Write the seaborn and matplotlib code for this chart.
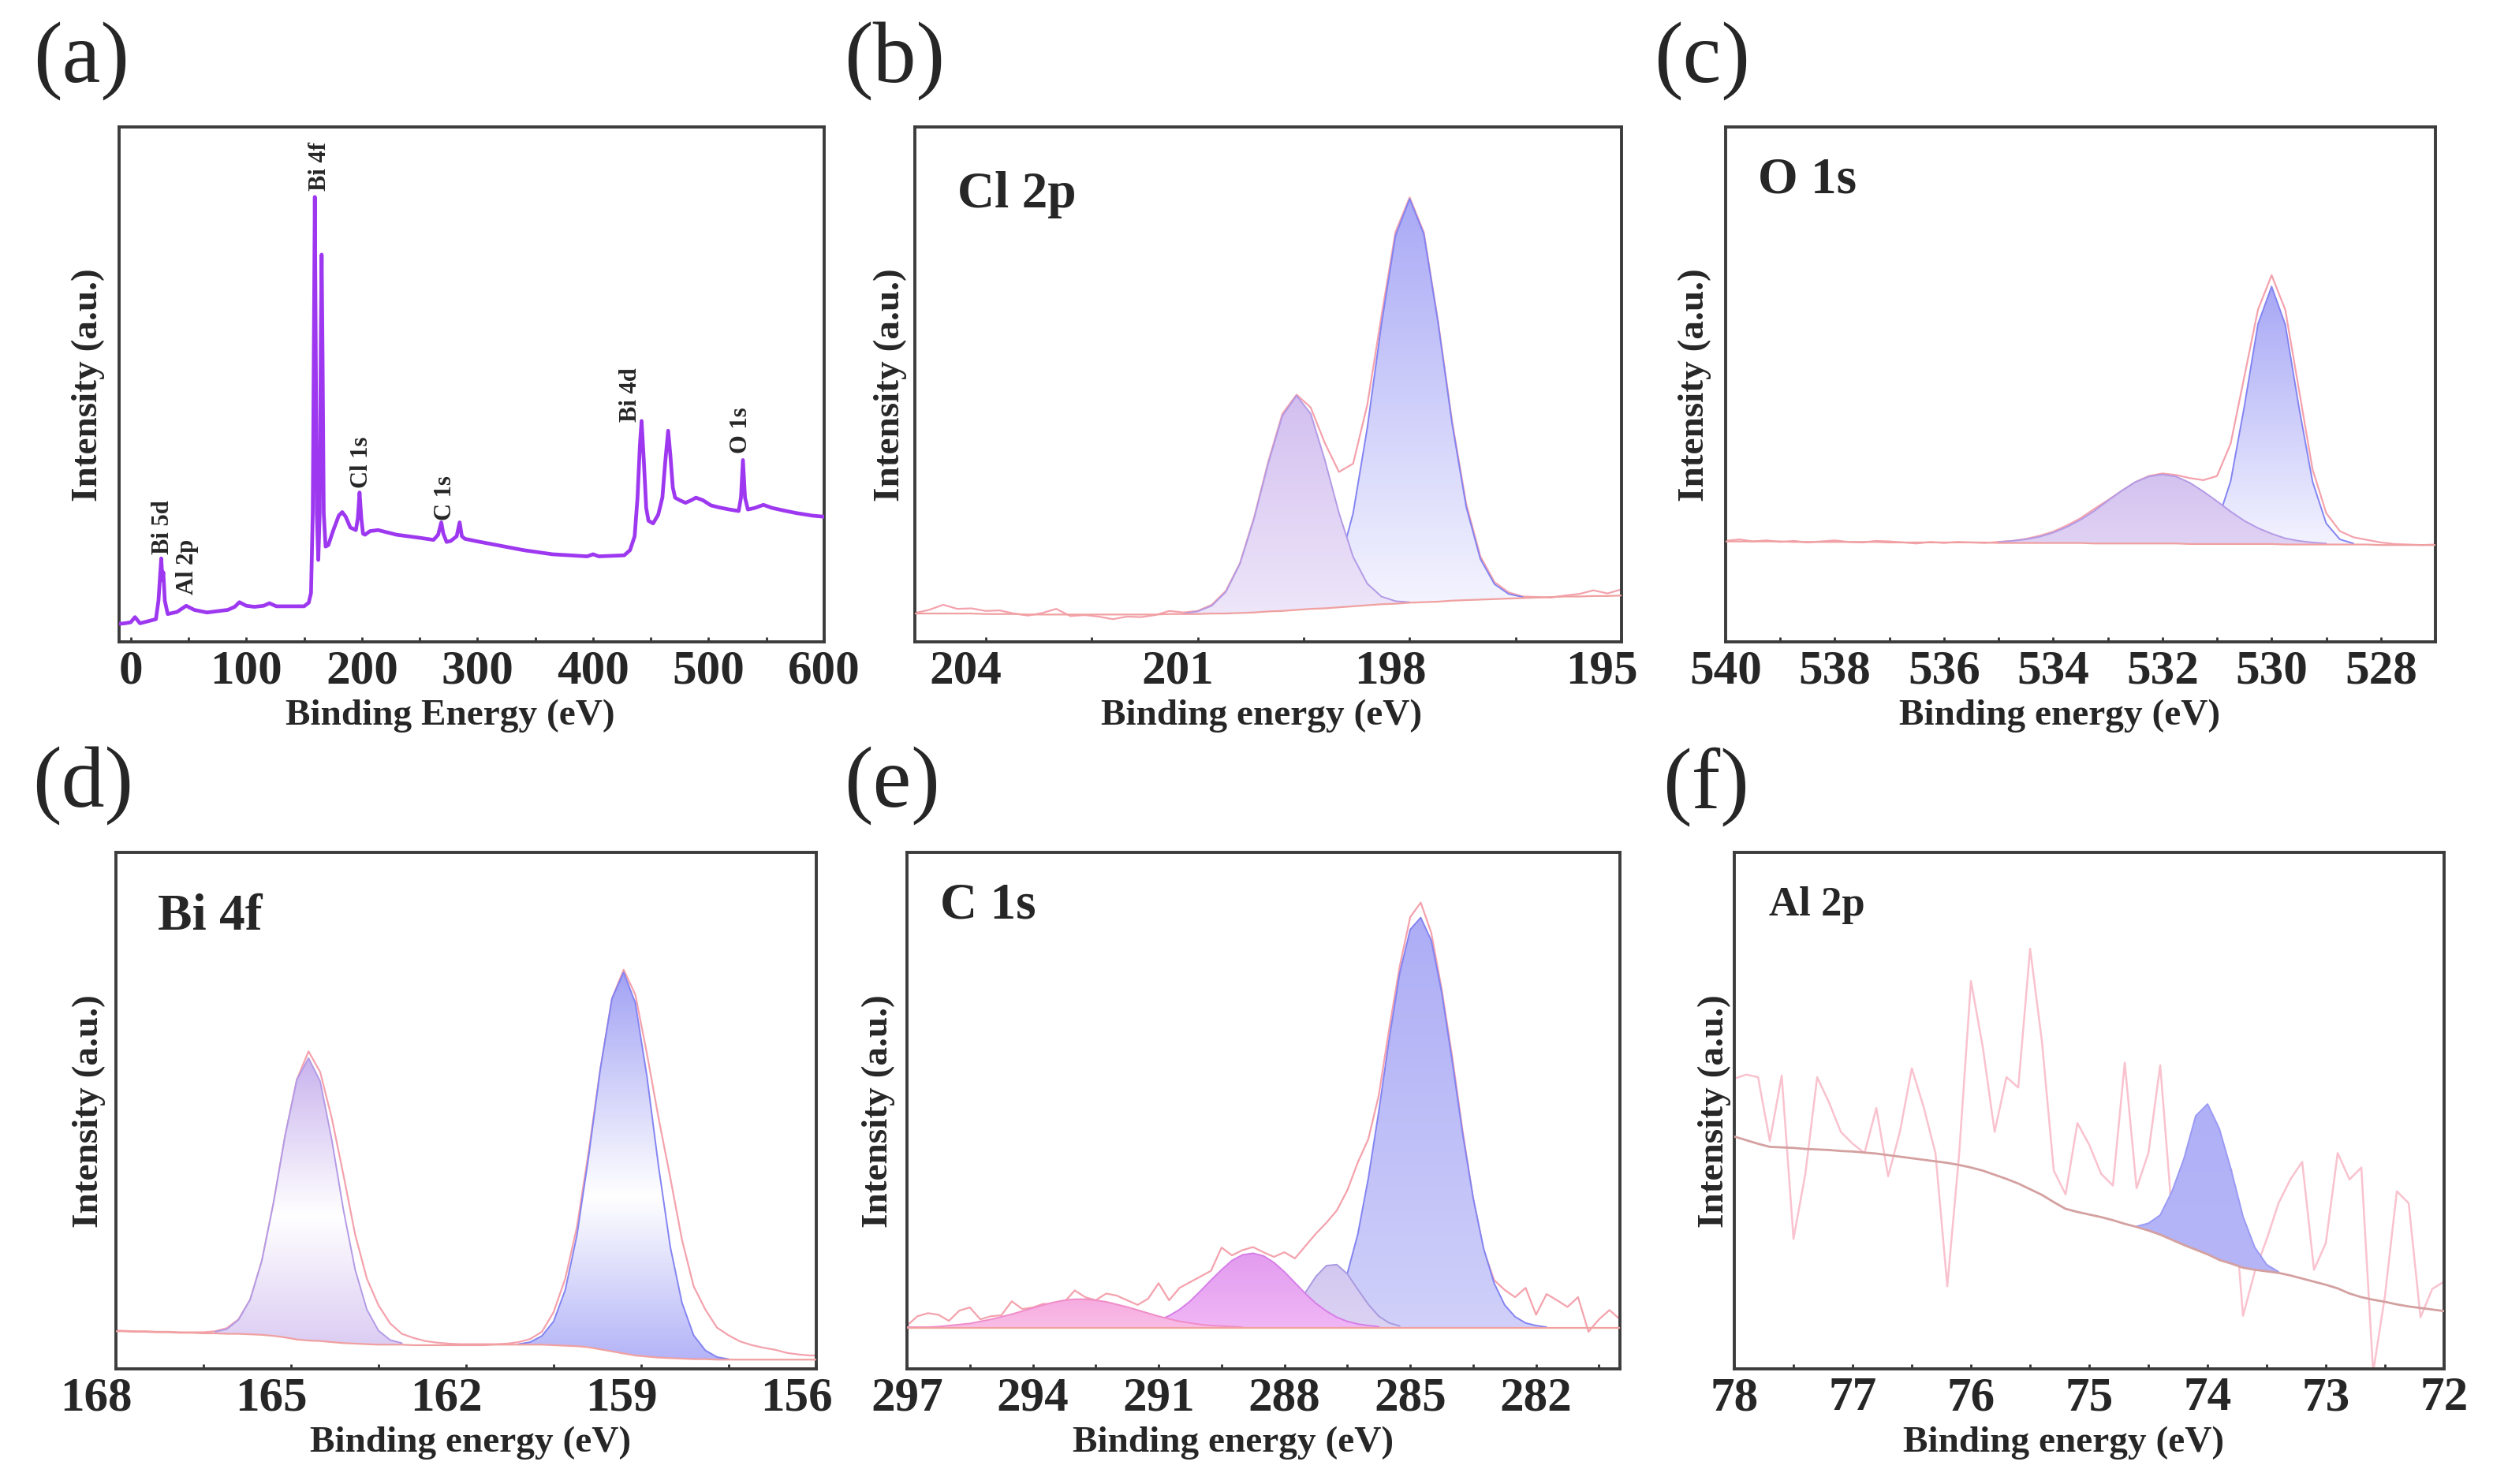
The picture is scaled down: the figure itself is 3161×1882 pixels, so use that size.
import numpy as np
import matplotlib
matplotlib.use('Agg')
import matplotlib.pyplot as plt
import seaborn as sns
from matplotlib.colors import LinearSegmentedColormap
from matplotlib.ticker import MultipleLocator
from matplotlib.transforms import ScaledTranslation

# ---- data (intensity = % of panel height) ----

# (a) survey spectrum
survey_E = [-10, -5, 0, 3.7, 8, 15, 21.8, 24, 26.4, 27.5, 28.2, 29.5, 32, 40, 48, 55, 66, 84, 90, 94,
            100, 107, 115, 120, 126, 140, 150, 154, 156, 157.5, 158.5, 159.3, 160.0, 161, 162.3, 163.5,
            164.5, 165.2, 166, 167, 168.6, 171, 175, 180, 183, 186, 190, 194.8, 196.5, 198, 199.5, 201,
            202.7, 207, 214, 230, 250, 262, 266, 268.7, 270.5, 273.3, 277, 282, 284.6, 286.5, 289.2, 300,
            316.5, 340, 365, 395, 400, 405, 427, 432, 436, 438.5, 440.5, 442, 444, 446, 448, 452, 456.4,
            460, 462.5, 465, 467, 469, 471, 475, 480, 485, 489, 495, 502, 509, 518, 526, 528, 529.7,
            531.5, 534, 540, 547.4, 555, 565, 576, 590, 600]
survey_I = [3.5, 3.6, 3.8, 4.8, 3.6, 4.0, 4.4, 8.0, 16.2, 12.0, 13.5, 8.0, 5.4, 5.8, 7.0, 6.2, 5.7, 6.2, 6.8, 7.7,
            7.0, 6.8, 7.0, 7.5, 6.9, 6.9, 6.9, 7.6, 9.5, 25.0, 60.0, 86.4, 60.0, 25.0, 15.9, 25.0,
            60.0, 75.2, 55.0, 25.0, 18.5, 18.8, 21.5, 24.5, 25.2, 24.3, 22.2, 21.7, 24.0, 29.0, 24.0, 21.0,
            20.8, 21.5, 21.7, 20.8, 20.2, 19.8, 20.8, 23.2, 21.0, 19.4, 19.6, 20.5, 23.2, 20.5, 20.0, 19.5,
            18.8, 17.8, 17.0, 16.6, 17.0, 16.6, 16.8, 17.8, 20.5, 28.0, 38.0, 42.9, 35.0, 26.0, 23.5, 23.0, 24.7,
            28.0, 35.0, 41.0, 36.0, 30.0, 28.0, 27.5, 27.0, 27.5, 28.0, 27.5, 26.5, 26.1, 25.7, 25.4, 28.0, 35.3,
            28.0, 25.7, 26.0, 26.6, 26.0, 25.5, 25.0, 24.5, 24.3]
survey_tags = ['Bi 5d', 'Al 2p', 'Bi 4f', 'Cl 1s', 'C 1s', 'Bi 4d', 'O 1s']
survey_tag_E = [27.8, 49.3, 163.3, 200, 272, 432.3, 528]
survey_tag_I = [17.2, 9.3, 87.7, 30.0, 23.8, 42.9, 36.8]

# (b) Cl 2p, 205 -> 195 eV in 0.2 eV steps
E_b = np.round(np.linspace(205, 195, 51), 2)
bg_b = [5.5, 5.5, 5.5, 5.5, 5.5, 5.4, 5.4, 5.4, 5.3, 5.3,
        5.3, 5.3, 5.3, 5.3, 5.3, 5.3, 5.3, 5.3, 5.4, 5.4,
        5.4, 5.5, 5.5, 5.6, 5.7, 5.9, 6.0, 6.2, 6.4, 6.5,
        6.7, 6.9, 7.1, 7.3, 7.4, 7.6, 7.7, 7.8, 8.0, 8.1,
        8.2, 8.3, 8.4, 8.5, 8.6, 8.7, 8.8, 8.8, 8.9, 8.9, 9.0]
raw_b = [5.6, 6.2, 7.2, 6.4, 6.5, 6.0, 6.1, 5.5, 5.1, 5.6,
         6.4, 5.0, 5.2, 4.9, 4.4, 4.9, 4.8, 5.2, 6.0, 5.7,
         6.0, 7.2, 9.9, 15.3, 24.2, 35.0, 44.3, 48.0, 45.5, 38.6,
         33.0, 34.6, 46.0, 63.2, 79.6, 86.3, 79.5, 62.4, 42.8, 26.8,
         16.6, 11.6, 9.6, 8.8, 8.7, 8.6, 9.0, 9.3, 10.0, 9.4, 10.2]
blue_b = [0] * 27 + [0.2, 0.9, 2.9, 7.9, 18.1, 34.4, 54.3, 71.5, 78.4, 71.5,
                     54.3, 34.4, 18.1, 7.9, 2.9, 0.9, 0.2] + [0] * 7
violet_b = [0] * 19 + [0.1, 0.5, 1.5, 4.2, 9.6, 18.3, 28.8, 37.9, 41.6, 37.9,
                       28.8, 18.3, 9.6, 4.2, 1.5, 0.5, 0.1] + [0] * 15

# (c) O 1s, 540 -> 527 eV in 0.25 eV steps
E_c = np.round(np.linspace(540, 527, 53), 2)
bg_c = [19.5] * 5 + [19.4] * 7 + [19.3] * 8 + [19.2] * 7 + [19.1] * 7 + [19.0] * 7 + [18.9] * 7 + [18.8] * 5
raw_c = [19.6, 19.9, 19.5, 19.7, 19.4, 19.6, 19.3, 19.5, 19.7, 19.4,
         19.3, 19.6, 19.5, 19.3, 19.1, 19.4, 19.2, 19.4, 19.3, 19.2,
         19.4, 19.6, 20.0, 20.6, 21.4, 22.6, 24.0, 25.8, 27.5, 29.3,
         31.0, 32.2, 32.7, 32.4, 31.8, 31.4, 32.2, 38.5, 51.5, 64.5,
         71.2, 64.5, 49.0, 33.5, 25.0, 21.5, 20.3, 19.8, 19.3, 19.0,
         18.9, 18.8, 18.9]
blue_c = [0] * 34 + [0.2, 1.0, 4.1, 12.2, 26.7, 42.7, 50.0, 42.7, 26.7, 12.2, 4.1, 1.0, 0.2] + [0] * 6
violet_c = [0] * 20 + [0.2, 0.4, 0.7, 1.2, 2.0, 3.1, 4.5, 6.3, 8.3, 10.2, 11.9, 13.0, 13.4,
                       13.0, 11.9, 10.2, 8.3, 6.3, 4.5, 3.1, 2.0, 1.2, 0.7, 0.4, 0.2] + [0] * 8

# (d) Bi 4f, 168 -> 156 eV
E_d = np.round(np.concatenate(([168.0], np.linspace(167.9, 156.1, 60), [156.0])), 2)
bg_d = [7.3, 7.3, 7.2, 7.2, 7.1, 7.1, 7.0, 7.0, 6.9, 6.9,
        6.8, 6.8, 6.7, 6.6, 6.4, 6.1, 5.7, 5.5, 5.4, 5.2,
        5.0, 4.9, 4.8, 4.7, 4.7, 4.7, 4.6, 4.6, 4.6, 4.6,
        4.6, 4.6, 4.6, 4.7, 4.7, 4.7, 4.7, 4.7, 4.6, 4.5,
        4.4, 4.2, 3.8, 3.4, 3.0, 2.6, 2.4, 2.2, 2.1, 2.0,
        1.9, 1.9, 1.8, 1.8, 1.8, 1.8, 1.8, 1.8, 1.8, 1.8,
        1.8, 1.8]
raw_d = [7.4, 7.4, 7.3, 7.3, 7.2, 7.2, 7.1, 7.1, 7.1, 7.3,
         7.9, 9.6, 13.4, 20.9, 32.1, 45.2, 56.0, 61.5, 57.5, 48.5,
         37.5, 26.0, 17.5, 12.3, 8.8, 6.8, 6.0, 5.4, 5.1, 4.9,
         4.8, 4.8, 4.8, 4.8, 4.9, 5.2, 5.8, 7.2, 11.0, 17.5,
         27.5, 42.0, 58.0, 71.7, 77.3, 72.5, 61.0, 48.5, 37.0, 25.0,
         16.0, 11.5, 8.0, 6.5, 5.3, 4.6, 4.1, 3.7, 3.1, 2.8,
         2.6, 2.6]
violet_d = [0] * 9 + [0.3, 0.9, 2.7, 6.7, 14.3, 25.7, 39.1, 50.3, 54.7, 50.3,
                      39.1, 25.7, 14.3, 6.7, 2.7, 0.9, 0.3] + [0] * 36
blue_d = [0] * 35 + [0.1, 0.5, 1.7, 4.6, 10.8, 21.5, 36.9, 54.2, 68.3, 73.8,
                     68.3, 54.2, 36.9, 21.5, 10.8, 4.6, 1.7, 0.5, 0.1] + [0] * 8

# (e) C 1s, 297 -> 280 eV in 0.25 eV steps
E_e = np.round(np.linspace(297, 280, 69), 2)
bg_e = [8.0] * 69
raw_e = [8.4, 10.2, 10.8, 10.5, 9.3, 11.3, 11.9, 9.6, 10.2, 10.4,
         13.1, 11.6, 11.9, 12.6, 12.5, 12.9, 15.2, 13.9, 13.3, 14.6,
         14.2, 13.3, 12.4, 13.6, 16.6, 13.3, 15.7, 16.8, 17.9, 19.0,
         23.5, 22.0, 23.0, 23.6, 22.6, 21.7, 22.6, 21.4, 23.8, 26.2,
         28.3, 30.7, 34.6, 40.0, 44.5, 53.0, 66.0, 78.0, 87.5, 90.3,
         84.5, 73.5, 60.5, 46.0, 33.0, 23.0, 17.2, 15.3, 13.9, 15.7,
         10.5, 14.5, 13.3, 12.0, 13.9, 7.2, 9.6, 11.4, 9.6]
pink_e = [0.1, 0.1, 0.1, 0.2, 0.4, 0.6, 0.8, 1.2, 1.6, 2.1, 2.6, 3.2, 3.8, 4.4, 4.9, 5.3, 5.5,
          5.5, 5.3, 5.0, 4.5, 4.0, 3.4, 2.8, 2.2, 1.7, 1.2, 0.9, 0.6, 0.4, 0.3, 0.2, 0.1] + [0] * 36
magenta_e = [0] * 21 + [0.2, 0.4, 0.8, 1.4, 2.3, 3.5, 5.1, 7.1, 9.2, 11.2, 13.0, 14.1, 14.4,
                        13.9, 12.6, 10.8, 8.7, 6.6, 4.7, 3.2, 2.0, 1.2, 0.7, 0.4, 0.2] + [0] * 23
violet_e = [0] * 34 + [0.3, 0.8, 1.9, 3.9, 6.8, 9.9, 12.0, 12.2, 10.4, 7.4, 4.5, 2.2, 0.9, 0.3] + [0] * 21
blue_e = [0] * 37 + [0.2, 0.5, 1.2, 2.7, 5.5, 10.5, 18.1, 28.9, 41.9, 56.0, 68.7, 77.1, 79.4,
                     75.0, 64.9, 51.6, 37.5, 25.1, 15.3, 8.6, 4.4, 2.1, 0.9, 0.4, 0.1] + [0] * 7

# (f) Al 2p, 78 -> 72 eV in 0.1 eV steps
E_f = np.round(np.linspace(78, 72, 61), 2)
bg_f = [45.0, 44.3, 43.6, 43.0, 42.9, 42.8, 42.6, 42.5, 42.4, 42.2,
        42.1, 41.9, 41.7, 41.4, 41.1, 40.8, 40.5, 40.2, 39.9, 39.5,
        39.0, 38.4, 37.6, 36.8, 35.9, 34.8, 33.7, 32.3, 31.0, 30.4,
        29.9, 29.4, 28.8, 28.1, 27.5, 26.8, 26.0, 25.0, 24.0, 23.1,
        22.2, 21.1, 20.4, 19.6, 19.2, 18.9, 18.6, 18.1, 17.5, 16.9,
        16.3, 15.6, 14.6, 13.9, 13.4, 13.0, 12.5, 12.1, 11.8, 11.5,
        11.2]
raw_f = [56.2, 57.0, 56.5, 44.1, 56.8, 25.2, 37.8, 56.5, 51.6, 45.9,
         43.6, 41.8, 50.5, 37.3, 46.0, 58.2, 50.7, 41.8, 16.0, 41.6,
         75.1, 62.3, 45.9, 56.5, 54.5, 81.4, 63.4, 38.4, 33.8, 47.6,
         43.4, 37.8, 35.5, 59.3, 35.0, 41.8, 58.8, 29.8, 37.8, 45.9,
         43.6, 40.7, 38.7, 10.3, 18.9, 25.1, 32.1, 36.7, 40.1, 19.2,
         24.4, 41.8, 36.7, 39.0, -0.6, 14.2, 34.4, 32.1, 10.0, 15.5,
         16.9]
blue_f = [0] * 34 + [0.1, 1.4, 3.8, 9.4, 16.7, 25.9, 29.1, 25.4, 18.1, 9.9, 4.3, 1.3, 0.2] + [0] * 14

# ---- style ----
sns.set_theme(style='white')
plt.rcParams['font.family'] = ['Liberation Serif', 'DejaVu Serif']
plt.rcParams['font.weight'] = 'bold'

RAW = '#f4a2ad'
BG = '#f0a0a0'

fig = plt.figure(figsize=(31.61, 18.83), dpi=100)
fig.patch.set_facecolor('white')


def line(ax, x, y, color, lw, z):
    sns.lineplot(x=np.asarray(x), y=np.asarray(y), ax=ax, color=color, lw=lw,
                 estimator=None, legend=False, zorder=z)


def component(ax, E, bg, comp, colors, edge, z):
    E, bg, comp = np.asarray(E), np.asarray(bg, float), np.asarray(comp, float)
    m = comp > 0
    x, lo, hi = E[m], bg[m], bg[m] + comp[m]
    poly = ax.fill_between(x, lo, hi, facecolor='none', edgecolor='none', zorder=z)
    cmap = LinearSegmentedColormap.from_list('', colors)
    img = ax.imshow(np.linspace(0, 1, 256)[:, None], cmap=cmap, aspect='auto', origin='lower',
                    extent=(x.min(), x.max(), lo.min(), hi.max()), zorder=z, interpolation='bilinear')
    img.set_clip_path(poly.get_paths()[0], transform=ax.transData)
    line(ax, x, hi, edge, 1.4, z + 0.5)


def finish(ax, xlim, major, minor, xlabel, label_x, ypad):
    ax.set_xlim(*xlim)
    ax.set_ylim(0, 100)
    ax.xaxis.set_major_locator(MultipleLocator(major))
    ax.xaxis.set_minor_locator(MultipleLocator(minor))
    ax.set_yticks([])
    ax.tick_params(axis='x', which='both', direction='in', length=4, width=2, color='#333333',
                   pad=6, labelsize=44, bottom=True, top=False)
    for sp in ax.spines.values():
        sp.set_visible(True)
        sp.set_color('#3c3c3c')
        sp.set_linewidth(2.8)
    ax.set_xlabel(xlabel, fontsize=34, fontweight='bold', labelpad=5)
    ax.xaxis.label.set_x(label_x)
    ax.set_ylabel('Intensity (a.u.)', fontsize=34, fontweight='bold', labelpad=ypad)


ax_a = fig.add_axes([0.0478, 0.5672, 0.2828, 0.3468])
ax_b = fig.add_axes([0.3670, 0.5672, 0.2835, 0.3468])
ax_c = fig.add_axes([0.6922, 0.5672, 0.2847, 0.3468])
ax_d = fig.add_axes([0.0465, 0.0775, 0.2809, 0.3478])
ax_e = fig.add_axes([0.3638, 0.0775, 0.2860, 0.3478])
ax_f = fig.add_axes([0.6957, 0.0775, 0.2847, 0.3478])

# (a) survey
line(ax_a, survey_E, survey_I, '#9d38f0', 3.4, 3)
for tag, x, y in zip(survey_tags, survey_tag_E, survey_tag_I):
    ax_a.text(x, y, tag, rotation=90, ha='center', va='bottom', fontsize=22, fontweight='bold')
finish(ax_a, (-10, 600), 100, 50, 'Binding Energy (eV)', 0.469, 13)

# (b) Cl 2p
line(ax_b, E_b, raw_b, RAW, 1.6, 1)
component(ax_b, E_b, bg_b, blue_b, ['#f5f5ff', '#a9a9f6'], '#8383f2', 2)
component(ax_b, E_b, bg_b, violet_b, ['#eee6f9', '#d3bff0'], '#b39ae6', 3)
line(ax_b, E_b, bg_b, BG, 1.6, 5)
ax_b.text(0.06, 0.845, 'Cl 2p', transform=ax_b.transAxes, fontsize=47, fontweight='bold')
finish(ax_b, (205, 195), 3, 1.5, 'Binding energy (eV)', 0.49, 7)

# (c) O 1s
line(ax_c, E_c, raw_c, RAW, 1.6, 1)
component(ax_c, E_c, bg_c, blue_c, ['#f3f3ff', '#a7a7f6'], '#8383f2', 2)
component(ax_c, E_c, bg_c, violet_c, ['#e0d2f4', '#d4c2ef'], '#b39ae6', 3)
line(ax_c, E_c, bg_c, BG, 1.6, 5)
ax_c.text(0.045, 0.873, 'O 1s', transform=ax_c.transAxes, fontsize=47, fontweight='bold')
finish(ax_c, (540, 527), 2, 1, 'Binding energy (eV)', 0.471, 13)

# (d) Bi 4f
line(ax_d, E_d, raw_d, RAW, 1.6, 1)
component(ax_d, E_d, bg_d, violet_d, [(0, '#dccdf3'), (0.45, '#ffffff'), (1, '#c9b3ee')], '#b39ae6', 2)
component(ax_d, E_d, bg_d, blue_d, [(0, '#b4b4f8'), (0.42, '#ffffff'), (1, '#a2a2f5')], '#8383f2', 3)
line(ax_d, E_d, bg_d, BG, 1.6, 5)
ax_d.text(0.06, 0.852, 'Bi 4f', transform=ax_d.transAxes, fontsize=47, fontweight='bold')
finish(ax_d, (168, 156), 3, 1.5, 'Binding energy (eV)', 0.506, 9)

# (e) C 1s
line(ax_e, E_e, raw_e, RAW, 1.6, 1)
component(ax_e, E_e, bg_e, blue_e, ['#d0d0fa', '#adadf6'], '#8383f2', 2)
component(ax_e, E_e, bg_e, violet_e, ['#dbd3f3', '#d3c7f0'], '#a99ae0', 3)
component(ax_e, E_e, bg_e, magenta_e, ['#efb6f5', '#e39cef'], '#d67ee8', 4)
component(ax_e, E_e, bg_e, pink_e, ['#f9bde6', '#f6ace0'], '#f08cc8', 5)
line(ax_e, E_e, bg_e, BG, 1.6, 7)
ax_e.text(0.046, 0.875, 'C 1s', transform=ax_e.transAxes, fontsize=47, fontweight='bold')
finish(ax_e, (297, 280), 3, 1.5, 'Binding energy (eV)', 0.457, 11)

# (f) Al 2p
line(ax_f, E_f, raw_f, '#f9c2ce', 1.8, 1)
component(ax_f, E_f, bg_f, blue_f, ['#b5b5f8', '#b0b0f7'], '#9a9af4', 2)
line(ax_f, E_f, bg_f, '#d4a0a0', 2.0, 5)
ax_f.text(0.049, 0.88, 'Al 2p', transform=ax_f.transAxes, fontsize=38, fontweight='bold')
finish(ax_f, (78, 72), 1, 0.5, 'Binding energy (eV)', 0.464, 3)

# panel letters
for lab, x, y in [('(a)', 0.0133, 0.985), ('(b)', 0.3385, 0.985), ('(c)', 0.6634, 0.985),
                  ('(d)', 0.0130, 0.497), ('(e)', 0.3385, 0.497), ('(f)', 0.6669, 0.497)]:
    fig.text(x, y, lab, fontsize=79, fontweight='normal', va='top', ha='left')

# tick labels of (b) and (d) sit a little left of their ticks
fig.canvas.draw()
shift = ScaledTranslation(-0.25, 0, fig.dpi_scale_trans)
for ax in (ax_b, ax_d):
    for t in ax.get_xticklabels():
        t.set_transform(t.get_transform() + shift)

fig.savefig('out.png', dpi=100, facecolor='white')
